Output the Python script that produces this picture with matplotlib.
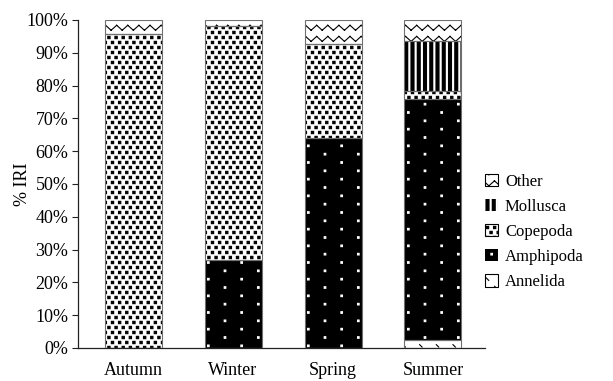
import warnings
import numpy as np
import matplotlib
matplotlib.use("Agg")
import matplotlib.pyplot as plt
from matplotlib import hatch as mhatch
from matplotlib.path import Path
from matplotlib.patches import Patch

warnings.filterwarnings("ignore")

# ---------------- data ----------------
seasons = ["Autumn", "Winter", "Spring", "Summer"]
annelida = [0.0, 0.0, 0.0, 2.3]
amphipoda = [0.0, 26.8, 64.0, 73.7]
copepoda = [95.7, 71.4, 28.7, 2.4]
mollusca = [0.0, 0.0, 0.0, 15.2]
other = [4.3, 1.8, 7.3, 6.4]
y_ticks = [0, 10, 20, 30, 40, 50, 60, 70, 80, 90, 100]
y_tick_labels = [f"{v}%" for v in y_ticks]
y_label = "% IRI"

# ---------------- custom hatch textures ----------------
plt.rcParams["hatch.linewidth"] = 0.8


class _ShapeHatch(mhatch.HatchPatternBase):
    char = None

    def __init__(self, hatch, density):
        self.active = self.char in hatch
        self.paths = self.build() if self.active else []
        self.num_vertices = sum(len(p[0]) for p in self.paths)

    def build(self):
        return []

    def set_vertices_and_codes(self, vertices, codes):
        i = 0
        for verts, cds in self.paths:
            n = len(verts)
            vertices[i:i + n] = verts
            codes[i:i + n] = cds
            i += n


def _square_path(x, y, h):
    v = [(x - h, y - h), (x + h, y - h), (x + h, y + h), (x - h, y + h), (x - h, y - h)]
    c = [Path.MOVETO, Path.LINETO, Path.LINETO, Path.LINETO, Path.CLOSEPOLY]
    return v, c


def _rect_path(x0, y0, x1, y1):
    v = [(x0, y0), (x1, y0), (x1, y1), (x0, y1), (x0, y0)]
    c = [Path.MOVETO, Path.LINETO, Path.LINETO, Path.LINETO, Path.CLOSEPOLY]
    return v, c


class CopepodaHatch(_ShapeHatch):
    char = "q"

    def build(self):
        out = []
        R, C = 20, 14
        for r in range(R):
            y = (r + 0.5) / R
            for c in range(C):
                off = 0.5 if r % 2 else 0.0
                x = (c + 0.25 + off) / C
                out.append(_square_path(x, y, 0.0115))
        return out


class AmphipodaHatch(_ShapeHatch):
    char = "w"

    def build(self):
        out = []
        R, C = 12, 3
        for r in range(R):
            y = (r + 0.5) / R
            for c in range(C):
                off = 0.5 if r % 2 else 0.0
                x = (c + 0.25 + off) / C
                out.append(_square_path(x, y, 0.008))
        return out


class MolluscaHatch(_ShapeHatch):
    char = "v"

    def build(self):
        out = []
        n = 16
        for k in range(n):
            x = (k + 0.5) / n
            out.append(_rect_path(x - 0.005, 0.0, x + 0.005, 1.0))
        return out


class AnnelidaHatch(_ShapeHatch):
    char = "a"

    def build(self):
        out = []
        R, C = 12, 6
        for r in range(R):
            y = (r + 0.5) / R
            for c in range(C):
                off = 0.5 if r % 2 else 0.0
                x = (c + 0.25 + off) / C
                out.append(([(x - 0.012, y + 0.012), (x + 0.012, y - 0.012)],
                            [Path.MOVETO, Path.LINETO]))
        return out


class ZigzagHatch(_ShapeHatch):
    char = "z"

    def build(self):
        out = []
        R, P, a = 9, 9, 0.05
        for r in range(R):
            y0 = (r + 0.5) / R
            for k in range(P):
                x0, xm, x1 = k / P, (k + 0.5) / P, (k + 1) / P
                out.append(([(x0, y0 - a / 2), (xm, y0 + a / 2)], [Path.MOVETO, Path.LINETO]))
                out.append(([(xm, y0 + a / 2), (x1, y0 - a / 2)], [Path.MOVETO, Path.LINETO]))
        return out


for cls in (CopepodaHatch, AmphipodaHatch, MolluscaHatch, AnnelidaHatch, ZigzagHatch):
    mhatch._hatch_types.append(cls)

# ---------------- figure ----------------
serif = ["Liberation Serif", "DejaVu Serif"]
plt.rcParams["font.family"] = serif
FS = 13
FS_LEG = 12

fig = plt.figure(figsize=(6.13, 3.81), dpi=100)
ax = fig.add_axes([78 / 613, 33 / 381, 407 / 613, 328 / 381])

x = np.arange(len(seasons))
width = 0.57

series = [
    ("Annelida", annelida, "white", "black", "a"),
    ("Amphipoda", amphipoda, "black", "white", "w"),
    ("Copepoda", copepoda, "white", "black", "q"),
    ("Mollusca", mollusca, "black", "white", "v"),
    ("Other", other, "white", "black", "z"),
]

bottom = np.zeros(len(seasons))
handles = {}
for name, vals, fc, hc, h in series:
    vals = np.asarray(vals, dtype=float)
    ax.bar(x, vals, width, bottom=bottom, facecolor=fc, edgecolor=hc,
           hatch=h, linewidth=0, zorder=2)
    ax.bar(x, vals, width, bottom=bottom, fill=False, edgecolor="#707070",
           linewidth=0.8, zorder=3)
    bottom += vals
    handles[name] = Patch(facecolor=fc, edgecolor=hc, hatch=h,
                          linewidth=0.8 if fc == "white" else 0)

ax.set_xlim(-0.55, 3.52)
ax.set_ylim(0, 100)
ax.set_yticks(y_ticks)
ax.set_yticklabels(y_tick_labels, fontsize=FS)
ax.set_xticks(x)
ax.set_xticklabels(seasons, fontsize=FS)
ax.tick_params(axis="x", length=0, pad=10)
ax.tick_params(axis="y", length=4, width=0.8, pad=3, direction="out", color="#222222")
ax.set_ylabel(y_label, fontsize=FS, labelpad=-3)

for s in ("top", "right"):
    ax.spines[s].set_visible(False)
for s in ("left", "bottom"):
    ax.spines[s].set_linewidth(0.9)
    ax.spines[s].set_color("#222222")

order = ["Other", "Mollusca", "Copepoda", "Amphipoda", "Annelida"]
leg = ax.legend([handles[n] for n in order], order, loc="center left",
                bbox_to_anchor=(1.0, 0.354), frameon=False, fontsize=FS_LEG,
                handlelength=0.75, handleheight=0.75, handletextpad=0.45,
                labelspacing=0.55, borderpad=0, borderaxespad=0)

fig.savefig("out.png", dpi=100)
